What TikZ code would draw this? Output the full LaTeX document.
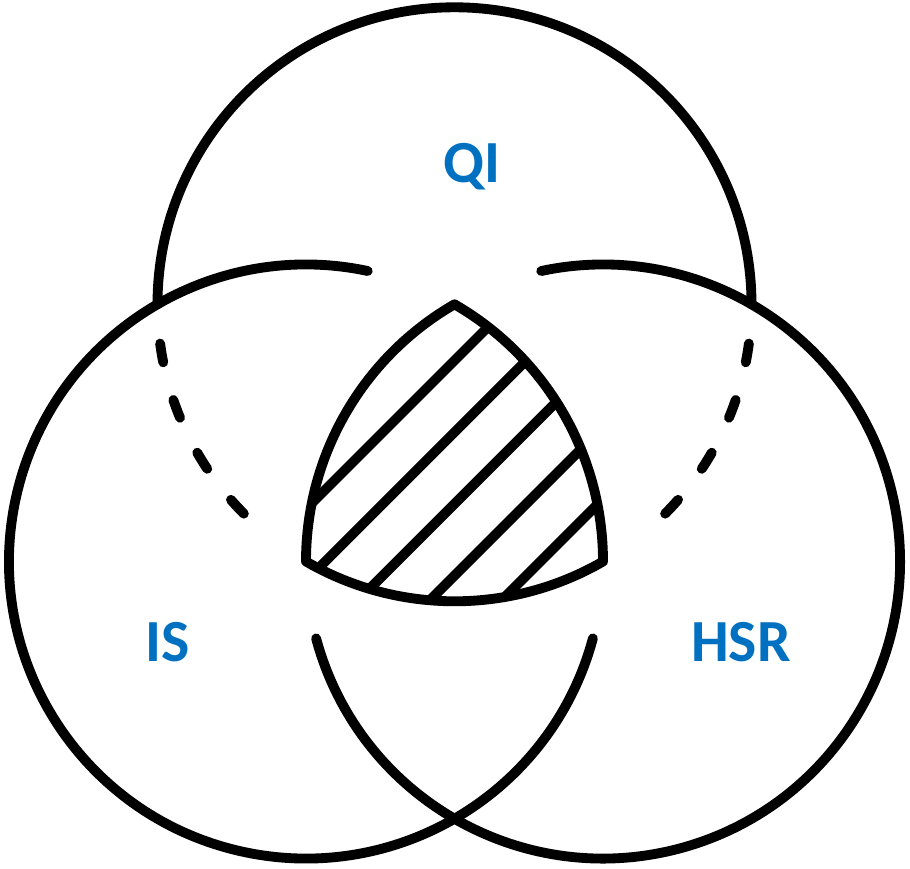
\documentclass[tikz,border=0pt]{standalone}
\usepackage{fontspec}
\setsansfont{Carlito}
\usetikzlibrary{positioning}
\definecolor{setblue}{RGB}{0,112,192}

\begin{document}
\begin{tikzpicture}[
  ring/.style={line width=2.8pt, line cap=round},
  dashring/.style={ring, dash pattern=on 0.19cm off 0.39cm},
  setname/.style={text=setblue, font=\sffamily\bfseries\fontsize{17}{20}\selectfont}]
\useasboundingbox (-3.06,-3.065) rectangle (6.04,5.615);
\def\r{2.97}
\coordinate (L) at (0,0);
\coordinate (R) at (\r,0);
\coordinate (T) at (60:\r);
\begin{scope}
\clip (L) arc[start angle=240, end angle=300, radius=\r]
  arc[start angle=0, end angle=60, radius=\r]
  arc[start angle=120, end angle=180, radius=\r] -- cycle;
\foreach \k in {0,...,4}
  \draw[ring] ({-1.525+0.717*\k},-1) -- ++(5,5);
\end{scope}
\draw[ring, line join=round] (L) arc[start angle=240, end angle=300, radius=\r]
  arc[start angle=0, end angle=60, radius=\r]
  arc[start angle=120, end angle=180, radius=\r] -- cycle;
\draw[ring] (T) ++(0:\r) arc[start angle=0, end angle=180, radius=\r];
\draw[ring] (L) ++(78:\r) arc[start angle=78, end angle=345, radius=\r];
\draw[ring] (R) ++(-165:\r) arc[start angle=-165, end angle=102, radius=\r];
\draw[dashring] (T) ++(187.6:\r) arc[start angle=187.6, end angle=224.9, radius=\r];
\draw[dashring] (T) ++(-7.6:\r) arc[start angle=-7.6, end angle=-44.9, radius=\r];
\node[setname] (qi) at (1.66,3.945) {QI};
\node[setname] (is) at (-1.38,-0.805) {IS};
\node[setname] (hsr) at (4.35,-0.805) {HSR};
\end{tikzpicture}
\end{document}
